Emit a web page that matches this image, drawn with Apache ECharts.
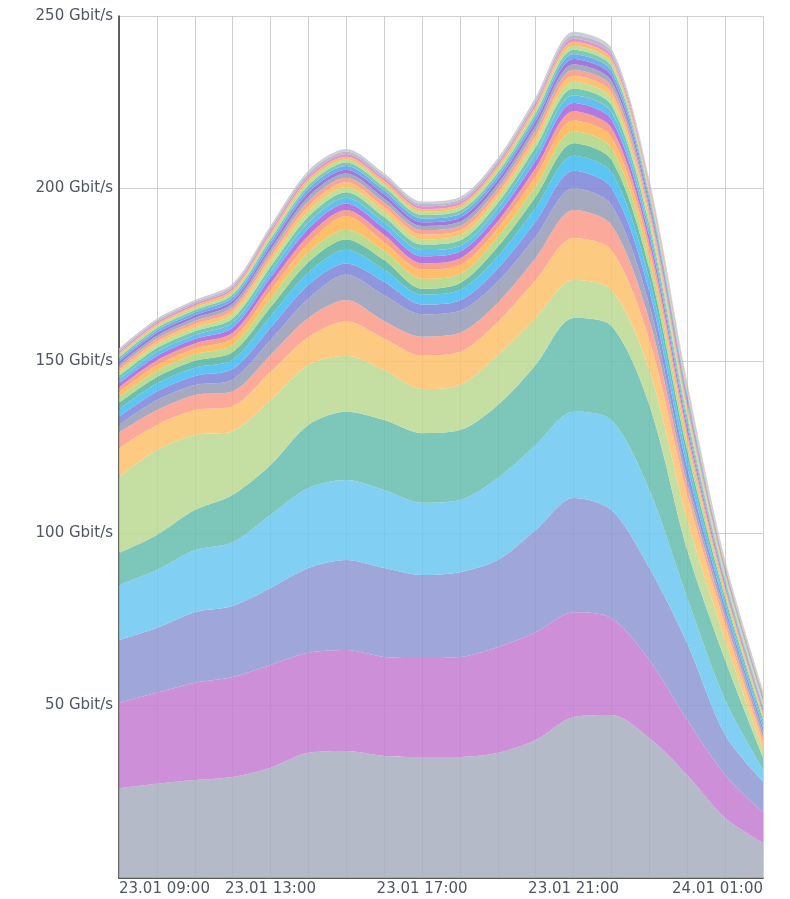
<!DOCTYPE html>
<html>
<head>
<meta charset="utf-8">
<script src="https://cdn.jsdelivr.net/npm/echarts@6/dist/echarts.min.js"></script>
<style>
html,body{margin:0;padding:0;background:#fff;}
#chart{width:790px;height:899px;}
</style>
</head>
<body>
<div id="chart"></div>
<script>
// tick labels along the time axis (one slot per sample)
var xLabels = ['23.01 09:00','','','','23.01 13:00','','','','23.01 17:00','','','','23.01 21:00','','','','','24.01 01:00'];
var yUnit = ' Gbit/s';

// main layers (Gbit/s per sample), bottom to top
var sGrey   = [26,27.3,28.4,29.3,32,36.3,36.8,35.4,35.1,35.1,36.3,40,46.7,47.3,40.6,29.9,17.4,10.2];
var sPink   = [24.8,26.4,28.2,29,29.8,29,29.3,28.7,28.7,29,30.7,31.3,30.4,28.1,22.6,15.9,12.5,8.9];
var sLav    = [18.2,18.8,20.5,20.6,22.3,24.6,26.1,25.8,24.1,24.6,25.2,29.6,33.1,31.3,26.7,22.2,11.6,8.9];
var sSky    = [16,16.8,18,18.5,21.2,23.2,23.2,22.6,20.9,20.9,23.8,24.7,25,26.1,22.6,13.2,10.1,3.5];
var sTeal   = [9.3,10.2,11.6,13.7,14.5,18.3,19.8,20.3,20.2,20.3,21.2,23.2,27.2,27.3,24.7,13.9,11.6,3.5];
var sGreen  = [22,24.6,21.8,18.5,18.8,17.4,16.3,14.5,12.8,13.1,14.5,13.6,11,10.4,10.1,8.7,5.8,2];
var sOrange = [8.4,7.3,7.2,7.2,8.2,8.1,10,9.2,9.7,9.6,9.6,11,12.2,11.6,8.7,7.3,4.4,2.5];
var sSalmon = [4.5,4.3,4.4,4.4,4.9,5.5,6.1,5,5.5,5.5,5.5,6.4,8.1,7.3,5.8,2.9,2,1.5];
var sSlate  = [2.2,2.9,2.9,3.4,4.3,5.6,7.4,7.5,6.5,6.4,6.2,6.2,6.4,5.8,4.4,2,1.7,1.5];

// thin layers on top
var t1  = [2.4,2.5,2.6,3.0,3.6,4.0,3.2,3.9,2.8,3.0,3.8,4.4,5.0,5.0,4.0,3.0,1.6,1.4];
var t2  = [2.2,2.3,2.4,2.7,3.3,3.6,4.0,3.5,2.9,3.0,3.5,4.0,4.4,4.5,3.6,2.8,1.5,1.2];
var t3  = [1.8,1.9,2.0,2.2,2.6,3.0,3.0,2.8,1.7,2.0,2.8,3.2,3.6,3.6,2.9,2.2,1.2,1.0];
var t4  = [1.7,1.8,1.9,2.1,2.6,2.9,2.8,2.7,2.9,2.7,2.8,3.1,3.5,3.5,2.8,2.1,1.2,0.9];
var t5  = [1.5,1.6,1.7,1.9,2.3,2.6,4.0,2.5,2.7,2.6,2.5,2.8,3.1,3.1,2.5,1.9,1.0,0.8];
var t6  = [1.3,1.4,1.4,1.6,2.0,2.2,1.7,2.1,1.8,1.9,2.1,2.4,2.7,2.7,2.2,1.6,0.9,0.7];
var t7  = [1.2,1.3,1.3,1.5,1.8,2.0,1.9,1.9,2.0,1.9,1.9,2.2,2.4,2.4,1.9,1.5,0.8,0.6];
var t8  = [1.1,1.2,1.2,1.4,1.6,1.8,1.7,1.7,1.8,1.7,1.8,2.0,2.2,2.2,1.8,1.4,0.8,0.6];
var t9  = [1.0,1.1,1.1,1.3,1.5,1.7,1.6,1.6,1.6,1.6,1.6,1.9,2.0,2.0,1.6,1.3,0.7,0.5];
var t10 = [0.9,1.0,1.0,1.2,1.4,1.6,1.5,1.5,1.5,1.5,1.5,1.7,1.9,1.9,1.5,1.2,0.7,0.5];
var t11 = [0.9,0.9,1.0,1.1,1.3,1.5,1.4,1.4,1.4,1.4,1.4,1.6,1.8,1.8,1.4,1.1,0.6,0.5];
var t12 = [0.8,0.9,0.9,1.0,1.2,1.4,1.3,1.3,1.3,1.3,1.3,1.5,1.7,1.7,1.3,1.0,0.6,0.5];
var t13 = [0.8,0.8,0.9,1.0,1.1,1.3,1.2,1.2,1.2,1.2,1.3,1.4,1.6,1.6,1.3,1.0,0.5,0.4];
var t14 = [0.7,0.8,0.8,0.9,1.1,1.2,1.1,1.2,1.1,1.2,1.2,1.3,1.5,1.5,1.2,0.9,0.5,0.4];
var t15 = [0.7,0.7,0.8,0.9,1.0,1.1,1.1,1.1,1.1,1.1,1.1,1.2,1.4,1.4,1.1,0.9,0.5,0.4];
var t16 = [0.6,0.7,0.7,0.8,0.9,1.0,1.0,1.0,1.0,1.0,1.0,1.1,1.3,1.3,1.0,0.8,0.4,0.4];
var t17 = [0.6,0.6,0.7,0.7,0.9,1.0,0.9,0.9,0.9,0.9,1.0,1.1,1.2,1.2,1.0,0.7,0.4,0.3];
var t18 = [0.5,0.6,0.6,0.7,0.8,0.9,0.8,0.9,0.8,0.8,0.9,1.0,1.1,1.1,0.9,0.7,0.4,0.3];
var t19 = [0.5,0.5,0.6,0.6,0.8,0.8,0.8,0.8,0.8,0.8,0.8,0.9,1.0,1.0,0.8,0.6,0.3,0.3];
var t20 = [0.5,0.5,0.5,0.6,0.7,0.8,0.7,0.7,0.7,0.7,0.7,0.8,0.9,1.0,0.8,0.6,0.3,0.2];
var t21 = [0.5,0.5,0.5,0.6,0.7,0.8,0.7,0.7,0.7,0.7,0.8,0.9,1.0,1.0,0.8,0.6,0.3,0.2];

var layers = [sGrey,sPink,sLav,sSky,sTeal,sGreen,sOrange,sSalmon,sSlate,
  t1,t2,t3,t4,t5,t6,t7,t8,t9,t10,t11,t12,t13,t14,t15,t16,t17,t18,t19,t20,t21];

var colors = ['#abb0c1','#c681d3','#929ad4','#6fc9f3','#6bbeb1','#bddb95','#fdc36f','#fb9d8c','#989eb7',
  '#8088d8','#45bdf3','#58b5a4','#b0d684','#fdb654','#f8947f','#a866dc','#50b5ee','#62c0ac','#b8da8c',
  '#fcbb5f','#f59a88','#98a0b8','#9566d4','#5aa2ec','#6cc2b0','#b6d98a','#fbb35e','#dc86cc','#aeb2c2','#c4c7d2'];

var series = layers.map(function(d,i){
  return {
    type:'line', stack:'total', data:d, symbol:'none', smooth:0.3,
    lineStyle:{width:0}, areaStyle:{color:colors[i], opacity:0.88},
    itemStyle:{color:colors[i]}, emphasis:{disabled:true}, silent:true
  };
});

var chart = echarts.init(document.getElementById('chart'), null, {renderer:'canvas'});
chart.setOption({
  animation:false,
  grid:{left:119, right:27, top:16, bottom:21, containLabel:false},
  xAxis:{
    type:'category', data:xLabels, boundaryGap:false,
    axisLine:{show:true, lineStyle:{color:'#333', width:1.5}},
    axisTick:{show:false},
    axisLabel:{interval:0, margin:4, color:'#50555f', fontFamily:'DejaVu Sans', fontSize:15,
      alignMinLabel:'left', alignMaxLabel:'right'},
    splitLine:{show:true, interval:0, lineStyle:{color:'#cfcfcf', width:1}}
  },
  yAxis:{
    type:'value', min:0, max:250, interval:50,
    axisLine:{show:true, lineStyle:{color:'#333', width:1.5}},
    axisTick:{show:false},
    axisLabel:{showMinLabel:false, margin:6, color:'#50555f', fontFamily:'DejaVu Sans', fontSize:15,
      formatter:function(v){return v + yUnit;}},
    splitLine:{show:true, lineStyle:{color:'#cfcfcf', width:1}}
  },
  series:series
});
</script>
</body>
</html>
